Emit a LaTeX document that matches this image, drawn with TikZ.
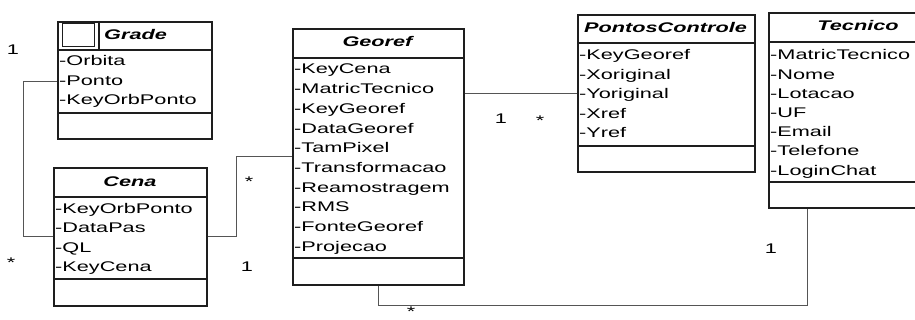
\documentclass[tikz,border=0pt]{standalone}
\usepackage{fontspec}
\setmainfont{Liberation Sans}[FakeStretch=1.55]
\definecolor{boxc}{HTML}{1E1E1E}
\definecolor{connc}{HTML}{555555}
\begin{document}
\begin{tikzpicture}[x=1pt,y=-1pt,
  cls/.style={draw=boxc, line width=1.6pt, inner sep=0pt, anchor=north west},
  sepline/.style={draw=boxc, line width=1.4pt},
  attr/.style={anchor=base west, inner sep=0pt, text=black, font=\fontsize{14}{16}\selectfont},
  ttl/.style={inner sep=0pt, text=black, font=\fontsize{14}{16}\selectfont\bfseries\itshape},
  conn/.style={draw=connc, line width=0.9pt},
  mult/.style={anchor=base, inner sep=0pt, text=black, font=\fontsize{14}{16}\selectfont}]
\useasboundingbox (0,0) rectangle (915,320);
\clip (0,0) rectangle (915,320);

% ---------- Grade ----------
\node[cls, minimum width=154pt, minimum height=117pt] (grade) at (57,21) {};
\draw[sepline] (grade.west |- 0,50) -- (grade.east |- 0,50);
\draw[sepline] (grade.west |- 0,113) -- (grade.east |- 0,113);
\draw[sepline] (99,21) -- (99,50);
\node[draw=boxc, line width=1.3pt, minimum width=32pt, minimum height=23pt, inner sep=0pt, anchor=north west] (gicon) at (62,23) {};
\node[ttl, anchor=base west] (gt) at (104,40) {Grade};
\foreach \t [count=\i] in {Orbita,Ponto,KeyOrbPonto}
  \node[attr] (ga\i) at (59,{66+19.5*(\i-1)}) {-\t};

% ---------- Cena ----------
\node[cls, minimum width=153pt, minimum height=138pt] (cena) at (53,167) {};
\draw[sepline] (cena.west |- 0,197) -- (cena.east |- 0,197);
\draw[sepline] (cena.west |- 0,279) -- (cena.east |- 0,279);
\node[ttl, anchor=base] (ct) at (130,187) {Cena};
\foreach \t [count=\i] in {KeyOrbPonto,DataPas,QL,KeyCena}
  \node[attr] (ca\i) at (55,{213.5+19.5*(\i-1)}) {-\t};

% ---------- Georef ----------
\node[cls, minimum width=171pt, minimum height=256pt] (georef) at (292,28) {};
\draw[sepline] (georef.west |- 0,58) -- (georef.east |- 0,58);
\draw[sepline] (georef.west |- 0,258) -- (georef.east |- 0,258);
\node[ttl, anchor=base] (grt) at (377.5,47) {Georef};
\foreach \t [count=\i] in {KeyCena,MatricTecnico,KeyGeoref,DataGeoref,TamPixel,Transformacao,Reamostragem,RMS,FonteGeoref,Projecao}
  \node[attr] (ra\i) at (294,{74+19.67*(\i-1)}) {-\t};

% ---------- PontosControle ----------
\node[cls, minimum width=177pt, minimum height=157pt] (pc) at (577,14) {};
\draw[sepline] (pc.west |- 0,43) -- (pc.east |- 0,43);
\draw[sepline] (pc.west |- 0,146) -- (pc.east |- 0,146);
\node[ttl, anchor=base] (pct) at (665.5,33) {PontosControle};
\foreach \t [count=\i] in {KeyGeoref,Xoriginal,Yoriginal,Xref,Yref}
  \node[attr] (pa\i) at (579,{60+19.5*(\i-1)}) {-\t};

% ---------- Tecnico ----------
\node[cls, minimum width=180pt, minimum height=195pt] (tec) at (768,12) {};
\draw[sepline] (tec.west |- 0,42) -- (tec.east |- 0,42);
\draw[sepline] (tec.west |- 0,182) -- (tec.east |- 0,182);
\node[ttl, anchor=base] (tt) at (858,31) {Tecnico};
\foreach \t [count=\i] in {MatricTecnico,Nome,Lotacao,UF,Email,Telefone,LoginChat}
  \node[attr] (ta\i) at (770,{60+19.17*(\i-1)}) {-\t};

% ---------- connectors ----------
\coordinate (c1) at (23,81);
\coordinate (c2) at (236,236);
\coordinate (c3) at (378,305);
\coordinate (c4) at (807,305);
\draw[conn] (grade.west |- c1) -- (c1) |- (cena.west |- 0,236);
\draw[conn] (cena.east |- c2) -- (c2) |- (georef.west |- 0,156);
\draw[conn] (georef.east |- 0,93) -- (pc.west |- 0,93);
\draw[conn] (georef.south -| c3) -- (c3) -- (c4) -- (tec.south -| c4);

% ---------- multiplicities ----------
\node[mult] (m1) at (13,55) {1};
\node[mult] (m2) at (11,268) {*};
\node[mult] (m3) at (249,187) {*};
\node[mult] (m4) at (247,272) {1};
\node[mult] (m5) at (501,124) {1};
\node[mult] (m6) at (540,126) {*};
\node[mult] (m7) at (771,254) {1};
\node[mult] (m8) at (411,316) {*};
\end{tikzpicture}
\end{document}
